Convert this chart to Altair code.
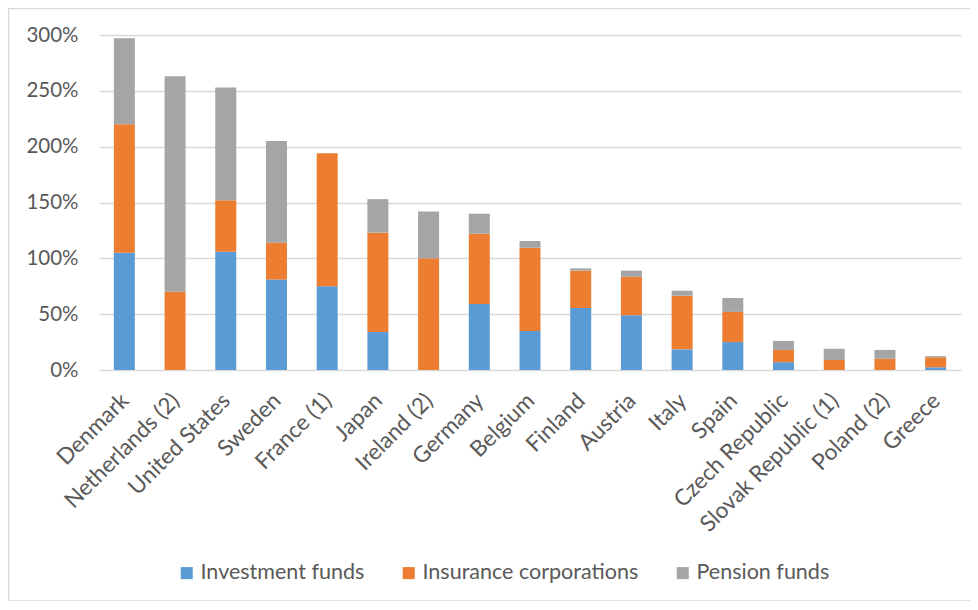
import altair as alt
import pandas as pd

countries = ["Denmark", "Netherlands (2)", "United States", "Sweden", "France (1)",
             "Japan", "Ireland (2)", "Germany", "Belgium", "Finland", "Austria",
             "Italy", "Spain", "Czech Republic", "Slovak Republic (1)", "Poland (2)", "Greece"]
series = ["Investment funds", "Insurance corporations", "Pension funds"]
investment = [105, 0, 106, 81, 75, 34, 0, 59, 35, 55.5, 49, 18.5, 25, 7, 0, 0, 2.4]
insurance = [115, 70, 46, 33, 119, 89, 100, 63, 74.5, 33.5, 34.5, 48, 27, 11, 9, 10, 9]
pension = [77, 193, 101, 91, 0, 30, 42, 18, 6, 2, 5.5, 4.5, 12.5, 8, 10, 8, 1]
colors = ["#5B9BD5", "#ED7D31", "#A5A5A5"]
y_ticks = [0, 0.5, 1.0, 1.5, 2.0, 2.5, 3.0]

rows = []
for i, c in enumerate(countries):
    for k, (s, vals) in enumerate(zip(series, [investment, insurance, pension])):
        rows.append({"country": c, "series": s, "order": k, "value": vals[i] / 100})
df = pd.DataFrame(rows)

FONT = "Lato"
TXT = "#595959"

bars = alt.Chart(df).mark_bar(size=21).encode(
    x=alt.X("country:N", sort=countries, title=None,
            scale=alt.Scale(paddingInner=0.58, paddingOuter=0.29),
            axis=alt.Axis(labelAngle=-45, labelAlign="right", labelBaseline="top",
                          labelFont=FONT, labelFontSize=22.5, labelColor=TXT,
                          labelLimit=0, labelOffset=-7,
                          ticks=False, domain=False, labelPadding=19, grid=False)),
    y=alt.Y("value:Q", stack="zero", title=None,
            scale=alt.Scale(domain=[0, 3], nice=False),
            axis=alt.Axis(values=y_ticks, format=".0%", labelFont=FONT, labelFontSize=20.5,
                          labelColor=TXT, ticks=False, domain=False, labelPadding=21,
                          gridColor="#D9D9D9", gridWidth=1.3)),
    color=alt.Color("series:N", sort=series,
                    scale=alt.Scale(domain=series, range=colors),
                    legend=alt.Legend(orient="none", direction="horizontal", title=None,
                                      legendX=77, legendY=527, symbolType="square",
                                      symbolSize=145, symbolStrokeWidth=0,
                                      labelFont=FONT, labelFontSize=21.5, labelColor=TXT,
                                      labelLimit=0,
                                      columnPadding=33, symbolOffset=0, labelOffset=3)),
    order=alt.Order("order:Q", sort="ascending"),
)

frame = alt.Chart(pd.DataFrame({"a": [0]})).mark_rect(
    fill=None, stroke="#D9D9D9", strokeWidth=1.5
).encode(x=alt.value(-90.5), x2=alt.value(1000), y=alt.value(-26.5), y2=alt.value(566))

chart = alt.layer(frame, bars).properties(
    width=862, height=335,
    autosize=alt.AutoSizeParams(type="none"),
    padding={"left": 91, "top": 27, "right": 9, "bottom": 231},
).configure_view(stroke=None)

chart.save("out.html", embed_options={"renderer": "svg", "actions": False})
